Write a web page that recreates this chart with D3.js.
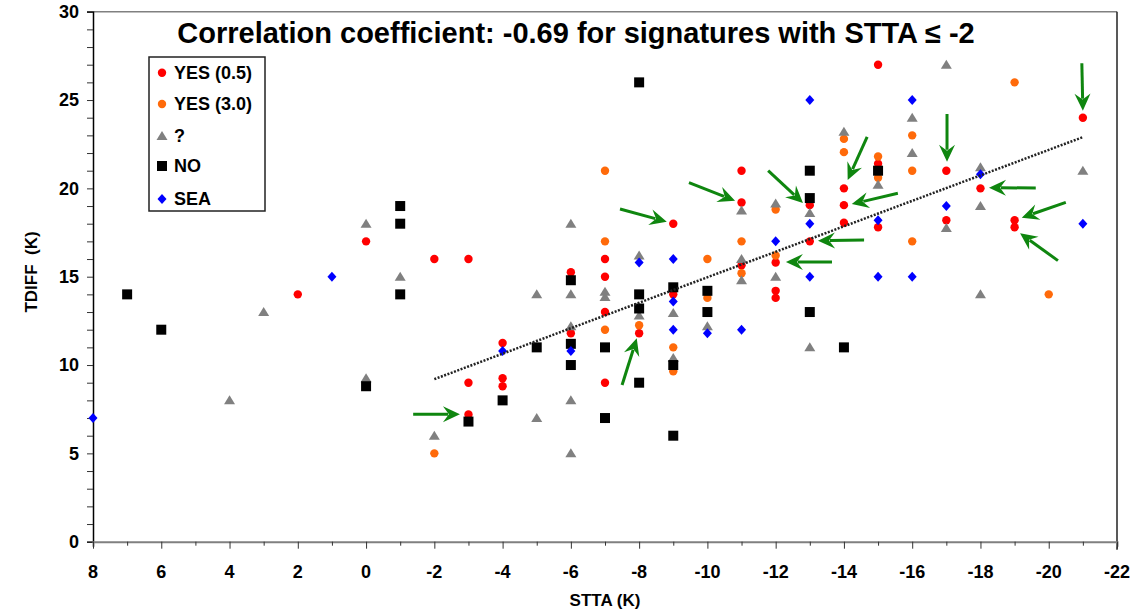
<!DOCTYPE html>
<html>
<head>
<meta charset="utf-8">
<script src="https://cdn.jsdelivr.net/npm/d3@7"></script>
<style>
  body { margin: 0; background: #fff; }
  text { font-family: "Liberation Sans", Arial, sans-serif; font-weight: bold; }
</style>
</head>
<body>
<svg width="1135" height="613"></svg>
<script>
// [STTA, TDIFF] pairs per category
var yes05 = [[2,14],[0,17],[-2,16],[-3,16],[-3,9],[-3,7.2],[-4,11.25],[-4,9.25],[-4,8.8],
  [-6,15.25],[-6,11.8],[-7,16],[-7,15],[-7,13],[-7,9],[-8,11.8],[-9,18],[-9,14],
  [-11,21],[-11,19.2],[-11,15.65],[-12,15.8],[-12,14.2],[-12,13.8],[-13,19.05],[-13,17],
  [-14,20],[-14,19.05],[-14,18.05],[-15,27],[-15,21.4],[-15,17.8],[-17,21],[-17,18.2],
  [-18,20],[-19,18.2],[-19,17.8],[-21,24]];
var yes30 = [[-2,5],[-7,21],[-7,17],[-7,12],[-8,12.25],[-9,11],[-9,9.65],[-10,16],[-10,13.8],
  [-11,17],[-11,15.2],[-12,18.8],[-12,16.2],[-14,22.8],[-14,22.05],[-15,21.8],[-15,20.6],
  [-16,23],[-16,21],[-16,17],[-19,26],[-20,14]];
var unsure = [[4,8],[3,13],[0,18],[0,9.25],[-1,15],[-2,6],[-5,14],[-5,7],[-6,18],[-6,14],
  [-6,12.2],[-6,8],[-6,5],[-7,14.15],[-7,13.85],[-8,16.2],[-8,12.8],[-9,12.95],[-9,10.4],
  [-10,12.2],[-11,18.75],[-11,16],[-11,14.8],[-12,19.15],[-12,15],[-13,18.6],[-13,11],
  [-14,23.2],[-15,20.2],[-16,24],[-16,22],[-17,27],[-17,17.75],[-18,21.2],[-18,19],
  [-18,14],[-21,21]];
var no = [[7,14],[6,12],[0,8.8],[-1,19],[-1,18],[-1,14],[-3,6.8],[-4,8],[-5,11],[-6,14.8],
  [-6,11.2],[-6,10],[-7,11],[-7,7],[-8,26],[-8,14],[-8,13.2],[-8,9],[-9,14.4],[-9,10],
  [-9,6],[-10,14.2],[-10,13],[-13,21],[-13,19.45],[-13,13],[-14,11],[-15,21]];
var sea = [[8,7],[1,15],[-4,10.8],[-6,10.8],[-8,15.8],[-9,16],[-9,13.6],[-9,12],[-10,11.8],
  [-11,12],[-12,17],[-13,25],[-13,18],[-13,15],[-15,18.2],[-15,15],[-16,25],[-16,15],
  [-17,19],[-18,20.8],[-21,18]];

var trend = [[-2,9.2],[-21,22.9]];

// annotation arrows: [tailX, tailY, tipX, tipY] in data units
var arrows = [[-1.38,7.22,-2.75,7.22],[-7.5,8.87,-7.93,11.51],[-7.44,18.83,-8.81,18.11],
  [-9.46,20.32,-10.81,19.3],[-11.78,21.0,-12.8,19.17],[-14.68,22.91,-14.11,20.47],
  [-15.58,19.72,-14.23,19.11],[-14.59,17.08,-13.24,17.04],[-13.65,15.83,-12.3,15.83],
  [-17.02,24.21,-17.02,21.51],[-20.97,27.08,-21.0,24.4],[-19.62,20.02,-18.25,20.04],
  [-20.5,19.21,-19.21,18.34],[-20.27,15.91,-19.16,17.46]];

var legendLabels = ["YES (0.5)", "YES (3.0)", "?", "NO", "SEA"];
var xTicks = d3.range(8, -23, -2);
var yTicks = d3.range(0, 31, 5);

var svg = d3.select("svg");
var plotL = 93, plotR = 1117, plotT = 11.7, plotB = 541.7;

var x = d3.scaleLinear().domain([8, -22]).range([plotL, plotR]);
var y = d3.scaleLinear().domain([0, 30]).range([plotB, plotT]);

var series = [
  { data: yes05, type: "circle", color: "#ff0000" },
  { data: yes30, type: "circle", color: "#ff6a0a" },
  { data: unsure, type: "triangle", color: "#808080" },
  { data: no, type: "square", color: "#000000" },
  { data: sea, type: "diamond", color: "#0000ff" }
];

function symbolPath(type) {
  if (type == "circle") return "M-4.2,0a4.2,4.2 0 1,0 8.4,0a4.2,4.2 0 1,0 -8.4,0Z";
  if (type == "triangle") return "M0,-5L5.5,4L-5.5,4Z";
  if (type == "square") return "M-5,-5H5V5H-5Z";
  return "M0,-5L4.5,0L0,5L-4.5,0Z";
}

// frame
svg.append("line").attr("x1", plotL - 6).attr("x2", plotR).attr("y1", plotT).attr("y2", plotT)
  .attr("stroke", "#808080").attr("stroke-width", 1.5);
svg.append("line").attr("x1", plotR).attr("x2", plotR).attr("y1", plotT).attr("y2", plotB + 8)
  .attr("stroke", "#222").attr("stroke-width", 1.5);

// y axis
var yAxis = svg.append("g").attr("transform", "translate(" + plotL + ",0)")
  .call(d3.axisLeft(y).tickValues(d3.range(0, 31, 1)).tickSize(6).tickFormat(""));
yAxis.select(".domain").attr("stroke", "#000").attr("stroke-width", 1.5);
yAxis.selectAll(".tick line").attr("stroke", "#333");
svg.selectAll(".ylab").data(yTicks).enter().append("text")
  .attr("x", 79).attr("y", d => y(d)).attr("dy", "0.35em")
  .attr("text-anchor", "end").attr("font-size", 18).text(d => d);

// x axis
var xAxis = svg.append("g").attr("transform", "translate(0," + plotB + ")")
  .call(d3.axisBottom(x).tickValues(d3.range(8, -23, -1)).tickSize(5).tickFormat(""));
xAxis.select(".domain").attr("stroke", "#808080").attr("stroke-width", 2);
xAxis.selectAll(".tick line").attr("stroke", "#333")
  .attr("y2", d => (d % 2 == 0 ? 7 : 4));
svg.selectAll(".xlab").data(xTicks).enter().append("text")
  .attr("x", d => x(d)).attr("y", 578)
  .attr("text-anchor", "middle").attr("font-size", 18).text(d => d);

svg.append("text").attr("x", 605).attr("y", 606).attr("text-anchor", "middle")
  .attr("font-size", 17).text("STTA (K)");
svg.append("text").attr("transform", "translate(37,272) rotate(-90)")
  .attr("text-anchor", "middle").attr("font-size", 17).attr("xml:space", "preserve")
  .text("TDIFF  (K)");

// title
svg.append("text").attr("x", 576).attr("y", 43).attr("text-anchor", "middle")
  .attr("font-size", 29).text("Correlation coefficient: -0.69 for signatures with STTA \u2264 -2");

// points
series.forEach(function (s) {
  svg.append("g").selectAll("path").data(s.data).enter().append("path")
    .attr("d", symbolPath(s.type))
    .attr("transform", d => "translate(" + x(d[0]) + "," + y(d[1]) + ")")
    .attr("fill", s.color);
});

// trend line
svg.append("line")
  .attr("x1", x(trend[0][0])).attr("y1", y(trend[0][1]))
  .attr("x2", x(trend[1][0])).attr("y2", y(trend[1][1]))
  .attr("stroke", "#222").attr("stroke-width", 2.5).attr("stroke-dasharray", "2,1.5");

// arrows
var green = "#0f860f";
arrows.forEach(function (a) {
  var x1 = x(a[0]), y1 = y(a[1]), x2 = x(a[2]), y2 = y(a[3]);
  var dx = x2 - x1, dy = y2 - y1, len = Math.sqrt(dx * dx + dy * dy);
  var ux = dx / len, uy = dy / len, px = -uy, py = ux;
  var L = 17, W = 8;
  svg.append("line").attr("x1", x1).attr("y1", y1)
    .attr("x2", x2 - ux * L * 0.7).attr("y2", y2 - uy * L * 0.7)
    .attr("stroke", green).attr("stroke-width", 3);
  var bx = x2 - ux * L, by = y2 - uy * L;
  svg.append("path")
    .attr("d", "M" + x2 + "," + y2 +
      "L" + (bx + px * W) + "," + (by + py * W) +
      "L" + (x2 - ux * L * 0.65) + "," + (y2 - uy * L * 0.65) +
      "L" + (bx - px * W) + "," + (by - py * W) + "Z")
    .attr("fill", green);
});

// legend
var lg = svg.append("g");
lg.append("rect").attr("x", 149).attr("y", 57).attr("width", 116).attr("height", 154)
  .attr("fill", "#fff").attr("stroke", "#222").attr("stroke-width", 1.5);
var rowY = [72.7, 104, 136, 166, 199];
legendLabels.forEach(function (lab, i) {
  lg.append("path").attr("d", symbolPath(series[i].type))
    .attr("transform", "translate(162," + rowY[i] + ")").attr("fill", series[i].color);
  lg.append("text").attr("x", 174).attr("y", rowY[i]).attr("dy", "0.36em")
    .attr("font-size", 18).text(lab);
});
</script>
</body>
</html>
